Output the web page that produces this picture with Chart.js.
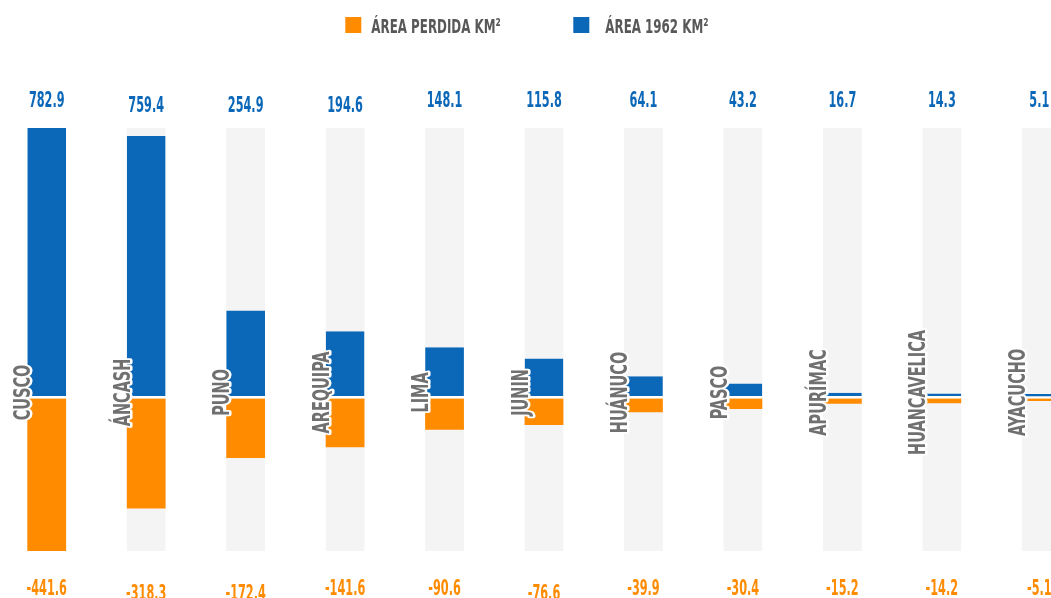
<!DOCTYPE html>
<html>
<head>
<meta charset="utf-8">
<script src="https://cdn.jsdelivr.net/npm/chart.js@4"></script>
<style>
html, body { margin: 0; padding: 0; background: #fff; overflow: hidden; }
#wrap { position: absolute; left: -3.3px; top: 0; width: 1094px; height: 598px; }
</style>
</head>
<body>
<div id="wrap"><canvas id="glaciares"></canvas></div>
<script>
// regiones
const regiones = ['CUSCO', 'ÁNCASH', 'PUNO', 'AREQUIPA', 'LIMA', 'JUNIN', 'HUÁNUCO', 'PASCO', 'APURÍMAC', 'HUANCAVELICA', 'AYACUCHO'];
// area de glaciar en 1962 (km2)
const area1962 = [782.9, 759.4, 254.9, 194.6, 148.1, 115.8, 64.1, 43.2, 16.7, 14.3, 5.1];
// area perdida (km2)
const areaPerdida = [-441.6, -318.3, -172.4, -141.6, -90.6, -76.6, -39.9, -30.4, -15.2, -14.2, -5.1];

const AZUL = '#0b67b7';
const NARANJA = '#ff8b00';
const GRIS_FONDO = '#f4f4f4';
const FUENTE = '"DejaVu Sans Condensed", "DejaVu Sans", sans-serif';
const OFFSET_X = 3.3; // el lienzo empieza un poco fuera de la ventana

// pequeños saltos de las etiquetas de valores, como en el original
const saltoArriba = [0, 4.5, 4.5, 4.5, 0, 0, 0, 0, 0, 0, 0];
const saltoAbajo = [0, 5, 5, 0, 0, 5, 0, 0, 0, 0, 0];

function textoEstrecho(ctx, txt, x, y, sx) {
  ctx.save();
  ctx.translate(x, y);
  ctx.scale(sx, 1);
  ctx.fillText(txt, 0, 0);
  ctx.restore();
}

// columnas grises detras de cada barra
const fondoColumnas = {
  id: 'fondoColumnas',
  beforeDatasetsDraw(chart) {
    const ctx = chart.ctx;
    const area = chart.chartArea;
    const meta = chart.getDatasetMeta(0);
    ctx.save();
    ctx.fillStyle = GRIS_FONDO;
    meta.data.forEach(bar => {
      ctx.fillRect(bar.x - bar.width / 2, area.top, bar.width, area.bottom - area.top);
    });
    ctx.restore();
  }
};

// nombres de regiones y valores
const etiquetas = {
  id: 'etiquetas',
  afterDatasetsDraw(chart) {
    const ctx = chart.ctx;
    const y0 = chart.scales.y.getPixelForValue(0);
    const barras = chart.getDatasetMeta(0).data;
    const anchoVisible = 1051 + OFFSET_X;
    ctx.save();
    barras.forEach((bar, i) => {
      const izq = bar.x - bar.width / 2;

      // nombre vertical con borde blanco
      ctx.save();
      ctx.translate(izq + 3, y0 - 6);
      ctx.rotate(-Math.PI / 2);
      ctx.scale(0.7, 1);
      ctx.font = 'bold 23px ' + FUENTE;
      ctx.textAlign = 'center';
      ctx.textBaseline = 'alphabetic';
      ctx.lineJoin = 'round';
      ctx.lineWidth = 5;
      ctx.strokeStyle = '#ffffff';
      ctx.strokeText(regiones[i], 0, 0);
      ctx.fillStyle = '#707070';
      ctx.fillText(regiones[i], 0, 0);
      ctx.restore();

      // valores; el ultimo se mantiene dentro de la ventana
      const xv = Math.min(bar.x, anchoVisible - 12);
      ctx.font = 'bold 22px ' + FUENTE;
      ctx.textAlign = 'center';
      ctx.textBaseline = 'alphabetic';
      ctx.fillStyle = AZUL;
      textoEstrecho(ctx, area1962[i].toFixed(1), xv, 107 + saltoArriba[i], 0.57);
      ctx.fillStyle = NARANJA;
      textoEstrecho(ctx, areaPerdida[i].toFixed(1), xv, 595 + saltoAbajo[i], 0.57);
    });
    ctx.restore();
  }
};

// leyenda arriba
const leyenda = {
  id: 'leyenda',
  afterDraw(chart) {
    const ctx = chart.ctx;
    const items = [
      { txt: chart.data.datasets[1].label, color: NARANJA, caja: 345, texto: 371 },
      { txt: chart.data.datasets[0].label, color: AZUL, caja: 573, texto: 605 }
    ];
    ctx.save();
    ctx.font = 'bold 20px ' + FUENTE;
    ctx.textAlign = 'left';
    ctx.textBaseline = 'alphabetic';
    items.forEach(it => {
      ctx.fillStyle = it.color;
      ctx.fillRect(it.caja + OFFSET_X, 17, 16, 16);
      ctx.fillStyle = '#585858';
      textoEstrecho(ctx, it.txt, it.texto + OFFSET_X, 33, 0.66);
    });
    ctx.restore();
  }
};

var ctx = document.getElementById('glaciares').getContext('2d');
var grafico = new Chart(ctx, {
  type: 'bar',
  data: {
    labels: regiones,
    datasets: [{
      label: 'ÁREA 1962 KM²',
      data: area1962,
      backgroundColor: AZUL,
      borderColor: '#ffffff',
      borderWidth: { top: 0, left: 0, right: 0, bottom: 2.5 },
      borderSkipped: false,
      minBarLength: 4.5
    }, {
      label: 'ÁREA PERDIDA KM²',
      data: areaPerdida,
      backgroundColor: NARANJA,
      borderWidth: 0,
      minBarLength: 2.5
    }]
  },
  options: {
    responsive: true,
    maintainAspectRatio: false,
    animation: false,
    layout: { padding: { top: 128, bottom: 47, left: 0, right: 0 } },
    datasets: {
      bar: { barPercentage: 0.39, categoryPercentage: 1 }
    },
    scales: {
      x: { stacked: true, display: false },
      y: {
        stacked: true,
        display: false,
        min: Math.min(...areaPerdida),
        max: Math.max(...area1962)
      }
    },
    plugins: {
      legend: { display: false },
      tooltip: { enabled: false }
    }
  },
  plugins: [fondoColumnas, etiquetas, leyenda]
});
</script>
</body>
</html>
